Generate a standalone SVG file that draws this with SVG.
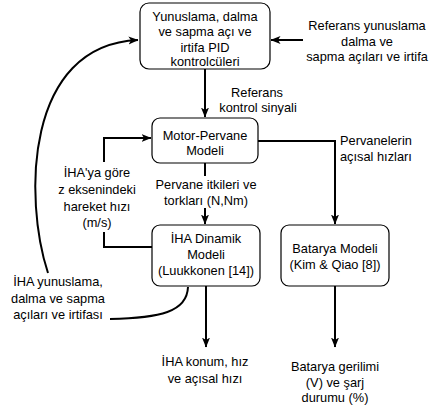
<svg xmlns="http://www.w3.org/2000/svg" width="435" height="410" viewBox="0 0 435 410">
<defs>
<marker id="arr" viewBox="0 0 10 10" refX="9.5" refY="5" markerWidth="10" markerHeight="10" markerUnits="userSpaceOnUse" orient="auto">
<path d="M0,1 L10,5 L0,9 L2.5,5 z" fill="#000"/>
</marker>
<style>
.box{fill:#fff;stroke:#000;stroke-width:1.2}
.t{font-family:"Liberation Sans",Arial,sans-serif;font-size:12.8px;fill:#000;text-anchor:middle}
.s{text-anchor:start}
.e{fill:none;stroke:#000;stroke-width:2}
</style>
</defs>
<rect width="435" height="410" fill="#fff"/>
<g id="connectors">
<path class="e" d="M303 40 H271" marker-end="url(#arr)"/>
<path class="e" d="M205 69 V117" marker-end="url(#arr)"/>
<path class="e" d="M205 163 V176"/>
<path class="e" d="M205 208 V224" marker-end="url(#arr)"/>
<path class="e" d="M258 141 H335 V224" marker-end="url(#arr)"/>
<path class="e" d="M152 247 H104 V232"/>
<path class="e" d="M104 162 V138 H151" marker-end="url(#arr)"/>
<path class="e" d="M206 286 V347" marker-end="url(#arr)"/>
<path class="e" d="M335 286 V347" marker-end="url(#arr)"/>
<path class="e" d="M188 287 C187 312 160 318 110 319"/>
<path class="e" d="M48 273 C24 200 24 45 138 40" marker-end="url(#arr)"/>
</g>
<g id="node-pid">
<rect class="box" x="140" y="3" width="130" height="66" rx="9"/>
<text class="t" x="205" y="20.5">Yunuslama, dalma</text>
<text class="t" x="205" y="36">ve sapma açı ve</text>
<text class="t" x="205" y="51.5">irtifa PID</text>
<text class="t" x="205" y="66">kontrolcüleri</text>
</g>
<g id="node-motor">
<rect class="box" x="152" y="118" width="106" height="45" rx="8"/>
<text class="t" x="205" y="139.5">Motor-Pervane</text>
<text class="t" x="205" y="155">Modeli</text>
</g>
<g id="node-dyn">
<rect class="box" x="152" y="225" width="108" height="61" rx="8"/>
<text class="t" x="206" y="243">İHA Dinamik</text>
<text class="t" x="206" y="259">Modeli</text>
<text class="t" x="206" y="275">(Luukkonen [14])</text>
</g>
<g id="node-bat">
<rect class="box" x="281" y="225" width="108" height="61" rx="8"/>
<text class="t" x="335" y="253">Batarya Modeli</text>
<text class="t" x="335" y="269">(Kim &amp; Qiao [8])</text>
</g>
<g id="labels">
<text class="t" x="367" y="30">Referans yunuslama</text>
<text class="t" x="367" y="45.5">dalma ve</text>
<text class="t" x="367" y="61">sapma açıları ve irtifa</text>
<text class="t" x="257" y="96.5">Referans</text>
<text class="t" x="258" y="112">kontrol sinyali</text>
<text class="t s" x="340" y="145">Pervanelerin</text>
<text class="t s" x="340" y="161">açısal hızları</text>
<text class="t" x="97" y="177">İHA'ya göre</text>
<text class="t" x="97" y="194">z eksenindeki</text>
<text class="t" x="97" y="211">hareket hızı</text>
<text class="t" x="97" y="227">(m/s)</text>
<text class="t" x="206" y="189">Pervane itkileri ve</text>
<text class="t" x="206" y="205">torkları (N,Nm)</text>
<text class="t" x="58" y="286">İHA yunuslama,</text>
<text class="t" x="58" y="303">dalma ve sapma</text>
<text class="t" x="58" y="319">açıları ve irtifası</text>
<text class="t" x="205" y="366">İHA konum, hız</text>
<text class="t" x="205" y="383">ve açısal hızı</text>
<text class="t" x="335" y="371">Batarya gerilimi</text>
<text class="t" x="335" y="387">(V) ve şarj</text>
<text class="t" x="335" y="402">durumu (%)</text>
</g>
</svg>
